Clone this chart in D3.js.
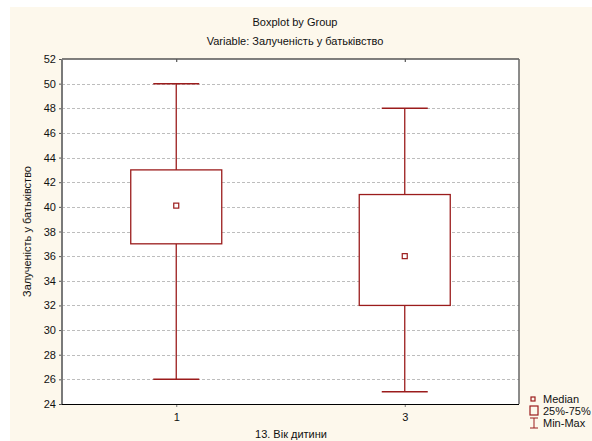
<!DOCTYPE html>
<html><head><meta charset="utf-8">
<script src="https://cdn.jsdelivr.net/npm/d3@7"></script>
<style>body{margin:0;background:#fff}svg{display:block;font-family:"Liberation Sans",Arial,sans-serif}</style>
</head><body>
<script>
const groups = ["1", "3"];
const minVals = [26, 25];
const q1Vals = [37, 32];
const medianVals = [40.1, 36];
const q3Vals = [43, 41];
const maxVals = [50, 48];
const yTicks = [24,26,28,30,32,34,36,38,40,42,44,46,48,50,52];
const legendLabels = ["Median", "25%-75%", "Min-Max"];

const W = 592, H = 441;
const m = {left: 62, top: 59, right: 519, bottom: 404};
const red = "#9b1c1c";
const svg = d3.select("body").append("svg").attr("width", W).attr("height", H);
svg.append("rect").attr("x", 10).attr("y", 7).attr("width", W - 10).attr("height", H - 7).attr("fill", "#fdf8ec");
svg.append("rect").attr("x", m.left).attr("y", m.top).attr("width", m.right - m.left).attr("height", m.bottom - m.top).attr("fill", "#fff");

const y = d3.scaleLinear().domain([24, 52]).range([m.bottom, m.top]);
const x = d3.scalePoint().domain(groups).range([m.left, m.right]).padding(0.5);

// grid
svg.append("g").selectAll("line").data(yTicks.filter(t => t > 24 && t < 52)).join("line")
  .attr("x1", m.left).attr("x2", m.right).attr("y1", d => Math.round(y(d)) + 0.5).attr("y2", d => Math.round(y(d)) + 0.5)
  .attr("stroke", "#bdbdbd").attr("stroke-dasharray", "3,2").attr("stroke-width", 1);

// axes
const yAxis = svg.append("g").attr("transform", `translate(${m.left},0)`)
  .call(d3.axisLeft(y).tickValues(yTicks).tickSize(3).tickPadding(3).tickFormat(d3.format("d")));
yAxis.select(".domain").remove();
yAxis.selectAll("text").attr("font-size", 11).attr("fill", "#111");
yAxis.selectAll("line").attr("stroke", "#555");

const xAxis = svg.append("g").attr("transform", `translate(0,${m.bottom})`)
  .call(d3.axisBottom(x).tickSize(3).tickPadding(6));
xAxis.select(".domain").remove();
xAxis.selectAll("text").attr("font-size", 11).attr("fill", "#111");
xAxis.selectAll("line").attr("stroke", "#777");
const xTop = svg.append("g").attr("transform", `translate(0,${m.top})`)
  .call(d3.axisBottom(x).tickSize(3).tickFormat(""));
xTop.select(".domain").remove();
xTop.selectAll("line").attr("stroke", "#333");

// frame
svg.append("line").attr("x1", m.left).attr("x2", m.right).attr("y1", m.top).attr("y2", m.top).attr("stroke", "#555").attr("stroke-width", 1.5);
svg.append("line").attr("x1", m.right).attr("x2", m.right).attr("y1", m.top).attr("y2", m.bottom).attr("stroke", "#666").attr("stroke-width", 1.5);
svg.append("line").attr("x1", m.left).attr("x2", m.left).attr("y1", m.top).attr("y2", m.bottom).attr("stroke", "#7a7a7a").attr("stroke-width", 2);
svg.append("line").attr("x1", m.left).attr("x2", m.right).attr("y1", m.bottom + 0.5).attr("y2", m.bottom + 0.5).attr("stroke", "#000").attr("stroke-width", 1.2);

// boxes
const boxW = 91, capW = 46;
groups.forEach((g, i) => {
  const cx = x(g);
  const gg = svg.append("g").attr("stroke", red).attr("fill", "none");
  gg.append("line").attr("x1", cx).attr("x2", cx).attr("y1", y(maxVals[i])).attr("y2", y(q3Vals[i])).attr("stroke-width", 1.3);
  gg.append("line").attr("x1", cx).attr("x2", cx).attr("y1", y(q1Vals[i])).attr("y2", y(minVals[i])).attr("stroke-width", 1.3);
  gg.append("line").attr("x1", cx - capW / 2).attr("x2", cx + capW / 2).attr("y1", y(maxVals[i])).attr("y2", y(maxVals[i])).attr("stroke-width", 1.5);
  gg.append("line").attr("x1", cx - capW / 2).attr("x2", cx + capW / 2).attr("y1", y(minVals[i])).attr("y2", y(minVals[i])).attr("stroke-width", 1.5);
  gg.append("rect").attr("x", cx - boxW / 2).attr("y", y(q3Vals[i])).attr("width", boxW).attr("height", y(q1Vals[i]) - y(q3Vals[i]))
    .attr("fill", "#fff").attr("stroke-width", 1.3);
  gg.append("rect").attr("x", cx - 2.5).attr("y", y(medianVals[i]) - 2.5).attr("width", 5).attr("height", 5).attr("fill", "#fff").attr("stroke-width", 1.2);
});

// titles
svg.append("text").attr("x", 295).attr("y", 26).attr("text-anchor", "middle").attr("font-size", 11).attr("fill", "#111").text("Boxplot by Group");
svg.append("text").attr("x", 295).attr("y", 45).attr("text-anchor", "middle").attr("font-size", 11).attr("fill", "#111").text("Variable: Залученість у батьківство");
svg.append("text").attr("x", 291).attr("y", 438).attr("text-anchor", "middle").attr("font-size", 11).attr("fill", "#111").text("13. Вік дитини");
svg.append("text").attr("transform", `translate(31,${(m.top + m.bottom) / 2}) rotate(-90)`).attr("text-anchor", "middle").attr("font-size", 11).attr("fill", "#111").text("Залученість у батьківство");

// legend
const lg = svg.append("g");
const ly = [399, 411, 423];
lg.append("rect").attr("x", 531).attr("y", ly[0] - 2).attr("width", 4).attr("height", 4).attr("fill", "none").attr("stroke", red).attr("stroke-width", 1.2);
lg.append("rect").attr("x", 530).attr("y", ly[1] - 5).attr("width", 8).attr("height", 9).attr("fill", "none").attr("stroke", red).attr("stroke-width", 1.2);
lg.append("line").attr("x1", 534).attr("x2", 534).attr("y1", ly[2] - 5).attr("y2", ly[2] + 5).attr("stroke", red);
lg.append("line").attr("x1", 530).attr("x2", 538).attr("y1", ly[2] - 5).attr("y2", ly[2] - 5).attr("stroke", red);
lg.append("line").attr("x1", 530).attr("x2", 538).attr("y1", ly[2] + 5).attr("y2", ly[2] + 5).attr("stroke", red);
lg.selectAll("text").data(legendLabels).join("text").attr("x", 543).attr("y", (d, i) => ly[i] + 4)
  .attr("font-size", 11).attr("fill", "#111").text(d => d);
</script>
</body></html>
